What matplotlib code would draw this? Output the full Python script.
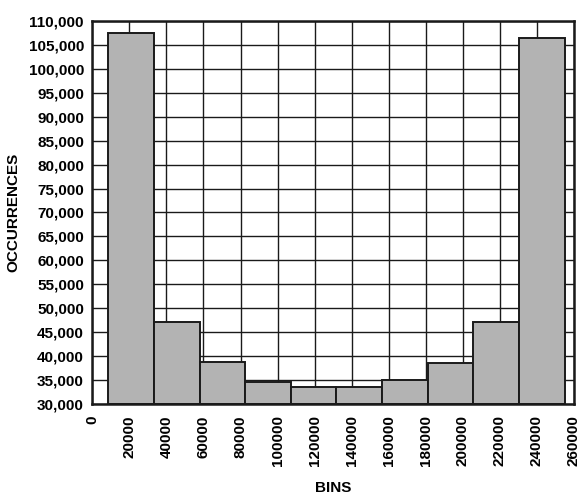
import numpy as np
import matplotlib
matplotlib.use("Agg")
import matplotlib.pyplot as plt
from matplotlib.ticker import FuncFormatter

plt.rcParams["font.family"] = ["Liberation Sans", "DejaVu Sans"]
plt.rcParams["font.weight"] = "bold"

# Histogram bin edges and occurrence counts
bin_edges = [8600, 33240, 57880, 82520, 107160, 131800,
             156440, 181080, 205720, 230360, 255000]
counts = [107400, 47200, 38750, 34750, 33650, 33650,
          35050, 38600, 47200, 106450]

x_ticks = list(range(0, 260001, 20000))
y_ticks = list(range(30000, 110001, 5000))

fig = plt.figure(figsize=(5.86, 4.96), dpi=100)
ax = fig.add_axes([0.1575, 0.1849, 0.822, 0.7734])

edges = np.array(bin_edges)
widths = np.diff(edges)
ax.bar(edges[:-1], np.array(counts) - 30000, width=widths, bottom=30000,
       align="edge", color="#b3b3b3", edgecolor="#1a1a1a", linewidth=1.4,
       zorder=3)

ax.set_xlim(0, 260000)
ax.set_ylim(30000, 110000)
ax.set_xticks(x_ticks)
ax.set_yticks(y_ticks)
ax.yaxis.set_major_formatter(FuncFormatter(lambda v, p: f"{int(v):,}"))
ax.tick_params(axis="x", length=0, pad=8, labelsize=11, rotation=90)
ax.tick_params(axis="y", length=0, pad=6, labelsize=11)

ax.grid(True, color="#1a1a1a", linewidth=1.0, zorder=0)
ax.set_axisbelow(True)
for s in ax.spines.values():
    s.set_linewidth(1.8)
    s.set_color("#1a1a1a")
    s.set_zorder(4)

ax.set_xlabel("BINS", fontsize=11, fontweight="bold")
ax.set_ylabel("OCCURRENCES", fontsize=11, fontweight="bold")
ax.xaxis.set_label_coords(0.5, -0.2)
ax.yaxis.set_label_coords(-0.15, 0.5)

fig.savefig("out.png", dpi=100)
